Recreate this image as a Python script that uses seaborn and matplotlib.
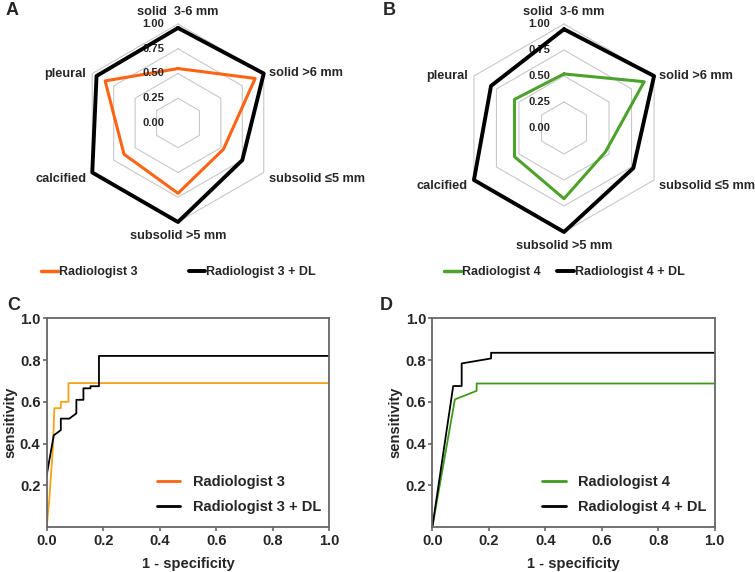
import numpy as np
import pandas as pd
import matplotlib
matplotlib.use("Agg")
import matplotlib.pyplot as plt
import seaborn as sns
from matplotlib.lines import Line2D

# Radar data (fraction detected per nodule type)
categories = ["solid  3-6 mm", "solid >6 mm", "subsolid \u22645 mm",
              "subsolid >5 mm", "calcified", "pleural"]
rad3 = [0.55, 0.90, 0.53, 0.71, 0.63, 0.85]
rad3_dl = [0.96, 1.00, 0.75, 1.00, 1.00, 0.95]
rad4 = [0.52, 0.89, 0.46, 0.68, 0.55, 0.55]
rad4_dl = [0.95, 1.00, 0.77, 1.00, 1.00, 0.81]
ring_levels = [0.25, 0.50, 0.75, 1.00]
radial_ticks = [0.00, 0.25, 0.50, 0.75, 1.00]

# ROC curves (1 - specificity, sensitivity)
roc3_fpr = [0.0, 0.009, 0.022, 0.027, 0.05, 0.05, 0.077, 0.077, 1.0]
roc3_tpr = [0.0, 0.13, 0.38, 0.57, 0.57, 0.60, 0.60, 0.69, 0.69]
roc3dl_fpr = [0.0, 0.025, 0.05, 0.05, 0.08, 0.105, 0.105, 0.13, 0.13,
              0.155, 0.155, 0.185, 0.185, 1.0]
roc3dl_tpr = [0.25, 0.44, 0.465, 0.52, 0.52, 0.545, 0.61, 0.61, 0.665,
              0.665, 0.675, 0.675, 0.82, 0.82]
roc4_fpr = [0.0, 0.08, 0.157, 0.157, 1.0]
roc4_tpr = [0.0, 0.612, 0.653, 0.688, 0.688]
roc4dl_fpr = [0.0, 0.074, 0.104, 0.104, 0.208, 0.208, 1.0]
roc4dl_tpr = [0.0, 0.676, 0.676, 0.784, 0.808, 0.835, 0.835]

ORANGE = "#ff6414"
ORANGE_ROC = "#f7a21b"
GREEN = "#4ca22a"
GREEN_ROC = "#3f9a1c"
GRID = "#c8c8c8"
FRAME = "#666666"

sns.set_theme(style="white")
plt.rcParams["font.family"] = ["Liberation Sans", "DejaVu Sans"]
plt.rcParams["font.weight"] = "bold"

W, H = 755, 572
fig = plt.figure(figsize=(W / 100, H / 100), dpi=100)


def px_rect(left, top, width, height):
    return [left / W, 1 - (top + height) / H, width / W, height / H]


# label offsets (pixels) and alignment for each radar vertex
label_pos = [
    ((0, 6), "center", "bottom"),
    ((5, 0), "left", "center"),
    ((5, -6), "left", "center"),
    ((0, -8), "center", "top"),
    ((-6, -6), "right", "center"),
    ((-6, 0), "right", "center"),
]


def radar(cx, cy, r, base, with_dl, color, names, colsp, legend_x):
    ax = fig.add_axes(px_rect(cx - r, cy - r, 2 * r, 2 * r), projection="polar")
    ax.set_theta_zero_location("N")
    ax.set_theta_direction(-1)
    theta = np.arange(len(categories)) * 2 * np.pi / len(categories)
    closed = np.r_[theta, theta[0]]
    for lvl in ring_levels:
        ax.plot(closed, [lvl] * len(closed), color=GRID, lw=0.8, zorder=1)
    df = pd.DataFrame({
        "theta": np.r_[closed, closed],
        "value": np.r_[base, base[0], with_dl, with_dl[0]],
        "reader": [names[0]] * len(closed) + [names[1]] * len(closed),
    })
    sns.lineplot(data=df[df.reader == names[0]], x="theta", y="value",
                 sort=False, estimator=None, color=color, lw=2.2, ax=ax, zorder=3)
    sns.lineplot(data=df[df.reader == names[1]], x="theta", y="value",
                 sort=False, estimator=None, color="black", lw=2.8, ax=ax, zorder=4)
    for ln in ax.lines:
        ln.set_clip_on(False)
    ax.set_ylim(0, 1)
    ax.grid(False)
    ax.spines["polar"].set_visible(False)
    ax.set_xticks([])
    ax.set_yticks([])
    ax.set_xlabel("")
    ax.set_ylabel("")
    ax.set_facecolor("none")
    for t in radial_ticks:
        ax.annotate(f"{t:.2f}", xy=(0, t), xytext=(-14, 0), textcoords="offset pixels",
                    ha="right", va="center", fontsize=8, fontweight="bold")
    for th, name, (off, ha, va) in zip(theta, categories, label_pos):
        ax.annotate(name, xy=(th, 1.0), xytext=off, textcoords="offset pixels",
                    ha=ha, va=va, fontsize=9.2, fontweight="bold")
    handles = [Line2D([], [], color=color, lw=2.5), Line2D([], [], color="black", lw=2.8)]
    fig.legend(handles, names, loc="center left", ncol=2, frameon=False,
               bbox_to_anchor=(legend_x / W, 1 - 272 / H), borderpad=0,
               handlelength=1.3, handletextpad=0.1, columnspacing=colsp,
               prop={"weight": "bold", "size": 9})


radar(178, 123, 99, rad3, rad3_dl, ORANGE, ["Radiologist 3", "Radiologist 3 + DL"], 4.1, 35)
radar(564, 128, 104, rad4, rad4_dl, GREEN, ["Radiologist 4", "Radiologist 4 + DL"], 1.35, 438)


def roc(left, xs, color, leg_color, names):
    ax = fig.add_axes(px_rect(left, 318.3, 282.5, 209))
    sns.lineplot(x=xs[0], y=xs[1], sort=False, estimator=None, color=color, lw=1.3, ax=ax)
    sns.lineplot(x=xs[2], y=xs[3], sort=False, estimator=None, color="black", lw=1.3, ax=ax)
    ax.set_xlim(0, 1)
    ax.set_ylim(0, 1)
    ax.set_xticks(np.arange(0, 1.01, 0.2))
    ax.set_yticks([0.2, 0.4, 0.6, 0.8, 1.0])
    ax.set_xticklabels([f"{v:.1f}" for v in np.arange(0, 1.01, 0.2)])
    ax.set_yticklabels([f"{v:.1f}" for v in [0.2, 0.4, 0.6, 0.8, 1.0]])
    for sp in ax.spines.values():
        sp.set_color(FRAME)
        sp.set_linewidth(1.3)
    ax.tick_params(axis="both", direction="out", length=3, width=1.2, color=FRAME,
                   labelsize=10.5, pad=1.5, left=True, bottom=True)
    for lab in ax.get_xticklabels() + ax.get_yticklabels():
        lab.set_fontweight("bold")
    ax.set_xlabel("1 - specificity", fontsize=10.5, fontweight="bold", labelpad=7)
    ax.set_ylabel("sensitivity", fontsize=10.5, fontweight="bold", labelpad=2)
    handles = [Line2D([], [], color=leg_color, lw=2), Line2D([], [], color="black", lw=2)]
    ax.legend(handles, names, loc="upper left", bbox_to_anchor=(0.39, 0.25),
              frameon=False, borderpad=0, borderaxespad=0, handlelength=1.6,
              handletextpad=0.85, labelspacing=0.75, prop={"weight": "bold", "size": 10.5})


roc(46.7, (roc3_fpr, roc3_tpr, roc3dl_fpr, roc3dl_tpr), ORANGE_ROC, ORANGE,
    ["Radiologist 3", "Radiologist 3 + DL"])
roc(432.3, (roc4_fpr, roc4_tpr, roc4dl_fpr, roc4dl_tpr), GREEN_ROC, GREEN_ROC,
    ["Radiologist 4", "Radiologist 4 + DL"])

for letter, x, y in [("A", 6, 2), ("B", 383, 2), ("C", 7, 297), ("D", 380, 297)]:
    fig.text(x / W, 1 - y / H, letter, fontsize=13, fontweight="bold", va="top", ha="left")

fig.savefig("out.png", dpi=100)
